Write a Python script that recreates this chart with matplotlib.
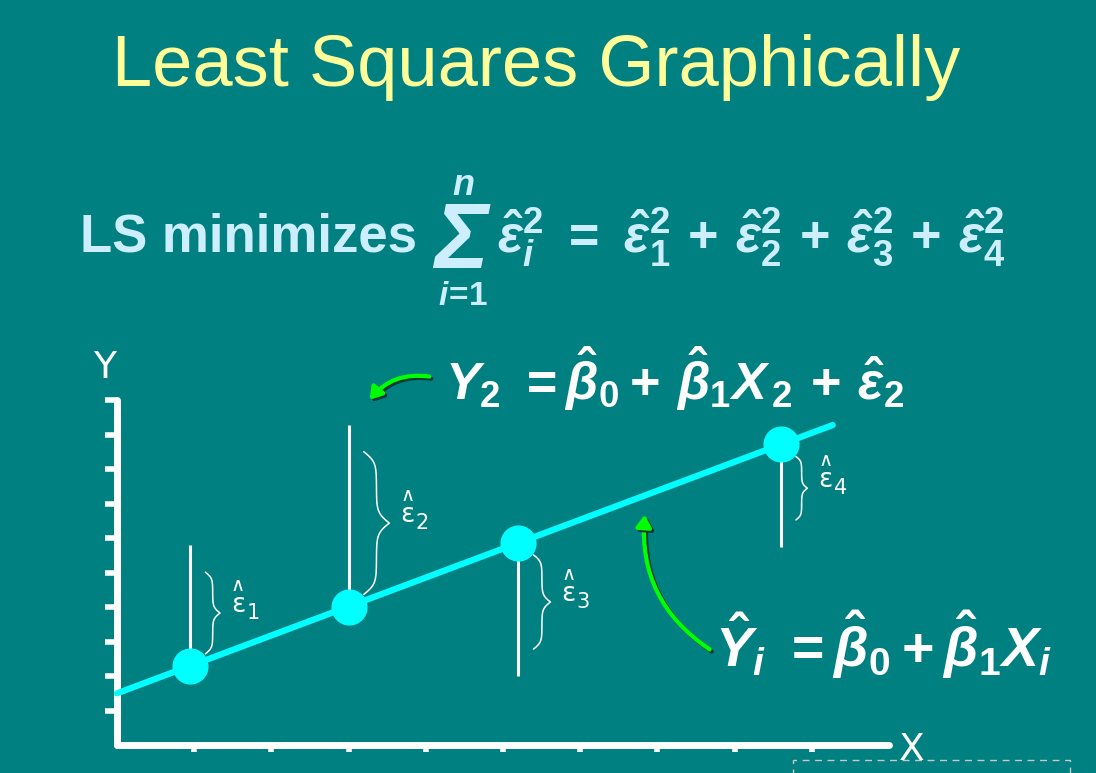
import numpy as np
import matplotlib.pyplot as plt
from matplotlib.patches import FancyArrowPatch, Rectangle
import matplotlib.patheffects as pe

plt.rcParams['mathtext.fontset'] = 'custom'
plt.rcParams['mathtext.rm'] = 'Liberation Sans:bold'
plt.rcParams['mathtext.it'] = 'Liberation Sans:italic:bold'
plt.rcParams['mathtext.bf'] = 'Liberation Sans:bold'

x_obs = [0.95, 3.0, 5.2, 8.6]
y_obs = [5.8, 9.3, 2.0, 5.75]
beta0 = 1.5
beta1 = 0.84
x_line = [0.0, 9.27]
x_ticks = list(range(1, 10))
y_ticks = list(range(1, 11))
x_axis_end = 10
y_axis_end = 10
resid_labels = ['1', '2', '3', '4']

BG = '#008080'
CYAN = '#00FFFF'
GREEN = '#00FF00'
NARROW = ['Liberation Sans Narrow', 'DejaVu Sans']

W, H = 1096, 773
PX_X, PX_Y = 77.2, 34.45   # pixels per data unit
OX, OY = 117, 745          # pixel position of the origin


def fx(px):
    return px / W


def fy(py):
    return 1 - py / H


def brace(ax, x0, y_lo, y_hi, width):
    # curly brace "}" drawn as two sigmoid halves
    s = np.linspace(0, 0.5, 60)
    b = 28.0
    f = 1 / (1 + np.exp(-b * s)) + 1 / (1 + np.exp(-b * (s - 0.5)))
    f = (f - f[0]) / (f[-1] - f[0])
    prof = np.concatenate([f, f[-2::-1]])
    t = np.linspace(0, 1, len(prof))
    ax.plot(x0 + width * prof, y_lo + (y_hi - y_lo) * t, color='white',
            lw=1.1, solid_capstyle='round', zorder=2)


fig = plt.figure(figsize=(W / 100, H / 100), dpi=100, facecolor=BG)
ax = fig.add_axes([0, 0, 1, 1])
ax.set_facecolor(BG)
ax.set_xlim(-OX / PX_X, (W - OX) / PX_X)
ax.set_ylim(-(H - OY) / PX_Y, OY / PX_Y)

# axes drawn with the spines through the origin
for side in ['top', 'right']:
    ax.spines[side].set_visible(False)
for side in ['left', 'bottom']:
    sp = ax.spines[side]
    sp.set_position(('data', 0))
    sp.set_color('white')
    sp.set_linewidth(5)
    sp.set_capstyle('round')
ax.spines['left'].set_bounds(0, y_axis_end)
ax.spines['bottom'].set_bounds(0, x_axis_end)
ax.set_xticks(x_ticks)
ax.set_yticks(y_ticks)
ax.set_xticklabels([])
ax.set_yticklabels([])
ax.tick_params(axis='y', direction='out', length=8.5, width=4, color='white')
ax.tick_params(axis='x', direction='out', length=5, width=4, color='white')

x_obs = np.array(x_obs)
y_obs = np.array(y_obs)
y_fit = beta0 + beta1 * x_obs
x_line = np.array(x_line)

ax.vlines(x_obs, y_fit, y_obs, color='white', lw=2.2, zorder=2)
ax.plot(x_line, beta0 + beta1 * x_line, color=CYAN, lw=4.5,
        solid_capstyle='round', zorder=3)
ax.plot(x_obs, y_fit, 'o', ms=25, color=CYAN, mec=CYAN, zorder=4)

# braces and residual labels
pad_fit = 12 / PX_Y
pad_obs = 27 / PX_Y
for xo, yo, yf, lab in zip(x_obs, y_obs, y_fit, resid_labels):
    if yo > yf:
        lo, hi = yf + pad_fit, yo - pad_obs
    else:
        lo, hi = yo + pad_obs, yf - pad_fit
    x0 = xo + 15 / PX_X
    w = 0.18 * (hi - lo) * PX_Y / PX_X
    brace(ax, x0, lo, hi, w)
    xc = x0 + w
    yc = (lo + hi) / 2
    ax.annotate('ε', (xc, yc), xytext=(8, 6), textcoords='offset points',
                color='white', fontsize=19, family=NARROW, va='center', ha='left')
    ax.annotate('∧', (xc, yc), xytext=(13, 20), textcoords='offset points',
                color='white', fontsize=14, family=NARROW, va='center', ha='center')
    ax.annotate(lab, (xc, yc), xytext=(19, 0), textcoords='offset points',
                color='white', fontsize=15, family=NARROW, va='center', ha='left')

# curved green arrows with a dark drop shadow
shadow = [pe.Stroke(offset=(1.5, -1.5), foreground='#003838'), pe.Normal()]
a1 = FancyArrowPatch(((432 - OX) / PX_X, (OY - 377) / PX_Y),
                     ((368 - OX) / PX_X, (OY - 402) / PX_Y),
                     connectionstyle='arc3,rad=0.3',
                     arrowstyle='-|>,head_length=7,head_width=4.5',
                     color=GREEN, lw=3, zorder=5, path_effects=shadow)
a2 = FancyArrowPatch(((712 - OX) / PX_X, (OY - 651) / PX_Y),
                     ((645 - OX) / PX_X, (OY - 512) / PX_Y),
                     connectionstyle='arc3,rad=-0.3',
                     arrowstyle='-|>,head_length=7,head_width=4.5',
                     color=GREEN, lw=3, zorder=5, path_effects=shadow)
ax.add_patch(a1)
ax.add_patch(a2)

# axis letters
fig.text(fx(105), fy(378), 'Y', family=NARROW, fontsize=27, color='white',
         ha='center', va='baseline')
fig.text(fx(912), fy(760), 'X', family=NARROW, fontsize=27, color='white',
         ha='center', va='baseline')

# title and formulas
fig.text(fx(536), fy(86), 'Least Squares Graphically', family='Liberation Sans',
         fontsize=52, color='#FFFF99', ha='center', va='baseline')

EQ = '#CCEEFF'
fig.text(fx(80), fy(252), 'LS minimizes', family='Liberation Sans', weight='bold',
         fontsize=38, color=EQ, ha='left', va='baseline')
fig.text(fx(461), fy(268), 'Σ', family='Liberation Sans', weight='bold', style='italic',
         fontsize=66, color=EQ, ha='center', va='baseline')
fig.text(fx(463), fy(195), '$n$', fontsize=26, color=EQ, ha='center', va='baseline')
fig.text(fx(463), fy(305), '$i\\!=\\!1$', fontsize=24, color=EQ, ha='center', va='baseline')
fig.text(fx(497), fy(252),
         r'$\hat{\varepsilon}_i^2\ =\ \hat{\varepsilon}_1^2\,+\,\hat{\varepsilon}_2^2\,+\,'
         r'\hat{\varepsilon}_3^2\,+\,\hat{\varepsilon}_4^2$',
         fontsize=37.5, color=EQ, ha='left', va='baseline')

fig.text(fx(445), fy(400),
         r'$Y_2\ = \hat{\beta}_0 +\,\hat{\beta}_1X_{\,2}\,+\,\hat{\varepsilon}_2$',
         fontsize=37.5, color='white', ha='left', va='baseline')
fig.text(fx(715), fy(667),
         r'$\hat{Y}_i\ = \hat{\beta}_0 + \hat{\beta}_1 X_i$',
         fontsize=40, color='white', ha='left', va='baseline')

# dashed placeholder box at the bottom right
fig.patches.append(Rectangle((fx(793), -0.05), fx(1070) - fx(793), fy(760) + 0.05,
                             transform=fig.transFigure, fill=False, ec='#C8C8C8',
                             lw=1, ls=(0, (5, 4))))

fig.savefig('out.png', dpi=100, facecolor=BG)
